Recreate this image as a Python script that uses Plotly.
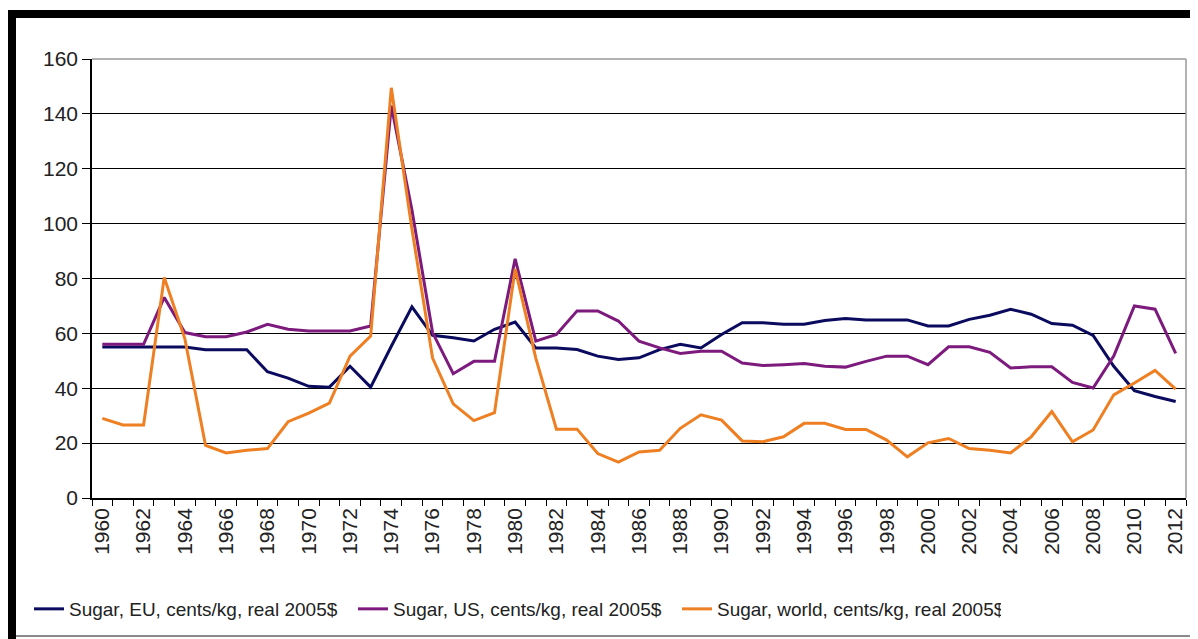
import plotly.graph_objects as go

years = list(range(1960, 2013))

eu = [55, 55, 55, 55, 55, 54, 54, 54, 46, 43.7, 40.7, 40.4, 48, 40.4, 55.3, 69.7, 59.3, 58.4,
      57.2, 61.5, 64.1, 54.7, 54.7, 54.1, 51.7, 50.5, 51.1, 54.1, 56, 54.7, 59.6, 63.9, 63.9,
      63.3, 63.3, 64.7, 65.4, 64.9, 64.9, 64.9, 62.7, 62.7, 65.1, 66.6, 68.8, 67, 63.6, 63,
      59.3, 48, 39.1, 37, 35.2]

us = [56, 56, 56, 73.1, 60.3, 58.8, 58.8, 60.5, 63.3, 61.5, 60.9, 60.9, 60.9, 62.7, 143, 105,
      60.3, 45.3, 49.8, 49.8, 87.2, 57.2, 59.6, 68.2, 68.2, 64.5, 57.2, 54.7, 52.7, 53.5, 53.5,
      49.2, 48.3, 48.6, 49, 48, 47.7, 49.8, 51.7, 51.7, 48.6, 55.1, 55.1, 53.1, 47.4, 47.8,
      47.8, 42.1, 40.1, 51.7, 70, 68.8, 52.7]

world = [29, 26.6, 26.6, 80.4, 58, 19.2, 16.4, 17.4, 18, 27.8, 30.9, 34.6, 51.7, 59, 149.5,
         98, 51, 34.3, 28.2, 31.1, 83.5, 51, 25.1, 25.1, 16.2, 13.1, 16.8, 17.4, 25.4, 30.3,
         28.4, 20.8, 20.5, 22.3, 27.2, 27.2, 25, 25, 21.1, 15, 20.1, 21.7, 18, 17.4, 16.4,
         22.3, 31.5, 20.5, 24.8, 37.6, 41.9, 46.5, 39.7]

names = ["Sugar, EU, cents/kg, real 2005$",
         "Sugar, US, cents/kg, real 2005$",
         "Sugar, world, cents/kg, real 2005$"]
colors = ["#0a0a5e", "#7d1a7d", "#ee7f22"]
x_labels = [str(y) for y in range(1960, 2013, 2)]

fig = go.Figure()
for vals, name, col in [(eu, names[0], colors[0]), (us, names[1], colors[1]), (world, names[2], colors[2])]:
    fig.add_trace(go.Scatter(x=years, y=vals, mode="lines", name=name,
                             line=dict(color=col, width=3)))

# page has an 8px body margin, so the figure is drawn 8px smaller and coords shifted
OFF = 8
W, H = 1198 - OFF, 639 - OFF
L, R, T, B = 92 - OFF, 12, 59 - OFF, 639 - 498
pw, ph = W - L - R, H - T - B

def px(x):
    return (x - OFF - L) / pw

def py(y):
    return (H - B - (y - OFF)) / ph

shapes = [
    dict(type="rect", xref="paper", yref="paper", x0=px(8), x1=px(1200), y0=py(18), y1=py(10),
         fillcolor="black", line=dict(width=0), layer="above"),
    dict(type="rect", xref="paper", yref="paper", x0=px(8), x1=px(16), y0=py(645), y1=py(10),
         fillcolor="black", line=dict(width=0), layer="above"),
    dict(type="line", xref="paper", yref="paper", x0=px(1196), x1=px(1196), y0=py(636), y1=py(18),
         line=dict(color="#8a8a8a", width=2), layer="above"),
    dict(type="line", xref="paper", yref="paper", x0=px(16), x1=px(1196), y0=py(636), y1=py(636),
         line=dict(color="#8a8a8a", width=2), layer="above"),
    dict(type="line", xref="paper", yref="paper", x0=0, x1=1, y0=1, y1=1,
         line=dict(color="#999999", width=1.5), layer="above"),
    dict(type="line", xref="paper", yref="paper", x0=1, x1=1, y0=0, y1=1,
         line=dict(color="#999999", width=1.5), layer="above"),
]

fig.update_layout(
    width=W, height=H,
    margin=dict(l=L, r=R, t=T, b=B, pad=0, autoexpand=False),
    paper_bgcolor="white", plot_bgcolor="white",
    font=dict(family="Liberation Sans, Arial, sans-serif", color="#222222"),
    showlegend=True,
    legend=dict(orientation="h", xref="container", yref="container",
                x=(29 - OFF) / W, xanchor="left", y=1 - (590 - OFF) / H, yanchor="top",
                font=dict(size=19, color="#222222"), bgcolor="rgba(0,0,0,0)",
                itemwidth=30, entrywidth=279, entrywidthmode="pixels", tracegroupgap=0),
    shapes=shapes,
)

fig.update_xaxes(
    range=[1959.5, 2012.5], tickmode="array", tickvals=list(range(1960, 2013, 2)),
    ticktext=x_labels, tickangle=-90, tickfont=dict(size=21, color="#222222"),
    showgrid=False, zeroline=False, showline=True, linecolor="black", linewidth=1.5,
    ticks="", ticklen=0, automargin=False,
    minor=dict(tickmode="array", tickvals=[1959.5 + i for i in range(54)], ticks="outside",
               ticklen=6, tickcolor="black", tickwidth=1, showgrid=False),
)
fig.update_yaxes(
    range=[0, 160], tickmode="array", tickvals=list(range(0, 161, 20)),
    tickfont=dict(size=21, color="#222222"), automargin=False,
    showgrid=True, gridcolor="black", gridwidth=1.3, zeroline=False,
    showline=True, linecolor="black", linewidth=1.5,
    ticks="outside", ticklen=8, tickcolor="black", tickwidth=1.3,
)

fig.write_html("out.html")
